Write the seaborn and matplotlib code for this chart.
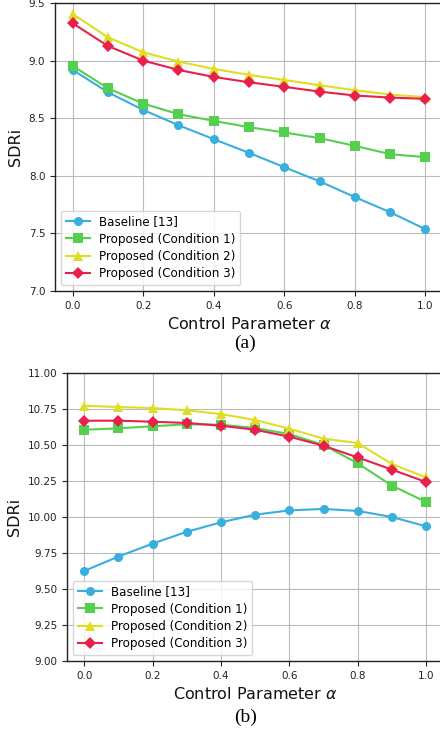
import numpy as np
import pandas as pd
import matplotlib
matplotlib.use("Agg")
import matplotlib.pyplot as plt
import seaborn as sns

alpha = [0.0, 0.1, 0.2, 0.3, 0.4, 0.5, 0.6, 0.7, 0.8, 0.9, 1.0]
series_names = ["Baseline [13]", "Proposed (Condition 1)", "Proposed (Condition 2)", "Proposed (Condition 3)"]

# Panel (a)
a_baseline = [8.92, 8.725, 8.572, 8.439, 8.318, 8.199, 8.075, 7.952, 7.815, 7.684, 7.536]
a_cond1 = [8.954, 8.760, 8.627, 8.535, 8.477, 8.422, 8.376, 8.327, 8.260, 8.188, 8.162]
a_cond2 = [9.405, 9.202, 9.072, 8.991, 8.928, 8.876, 8.832, 8.786, 8.743, 8.705, 8.682]
a_cond3 = [9.324, 9.127, 9.000, 8.919, 8.858, 8.812, 8.772, 8.731, 8.697, 8.679, 8.668]

# Panel (b)
b_baseline = [9.625, 9.725, 9.815, 9.897, 9.963, 10.016, 10.046, 10.056, 10.042, 10.000, 9.935]
b_cond1 = [10.606, 10.616, 10.630, 10.644, 10.641, 10.618, 10.576, 10.500, 10.373, 10.218, 10.104]
b_cond2 = [10.773, 10.764, 10.757, 10.741, 10.715, 10.674, 10.613, 10.544, 10.514, 10.368, 10.275]
b_cond3 = [10.669, 10.669, 10.662, 10.653, 10.634, 10.606, 10.558, 10.495, 10.414, 10.329, 10.243]

colors = ["#3aaedc", "#55d04e", "#dede22", "#e8204c"]
markers = ["o", "s", "^", "D"]

a_yticks = [7.0, 7.5, 8.0, 8.5, 9.0, 9.5]
b_yticks = [9.00, 9.25, 9.50, 9.75, 10.00, 10.25, 10.50, 10.75, 11.00]
xticks = [0.0, 0.2, 0.4, 0.6, 0.8, 1.0]

fig = plt.figure(figsize=(4.4, 7.31), dpi=100)
ax_a = fig.add_axes([0.125, 0.6019, 0.882, 0.394])
ax_b = fig.add_axes([0.1523, 0.0958, 0.855, 0.3939])


def draw(ax, data, yticks, fmt):
    for name, vals, c, m in zip(series_names, data, colors, markers):
        df = pd.DataFrame({"alpha": alpha, "SDRi": vals})
        ms = 7 if m == "^" else 6.5
        sns.lineplot(data=df, x="alpha", y="SDRi", ax=ax, color=c, marker=m,
                     markersize=ms, markeredgewidth=0, linewidth=1.5, label=name)
    ax.set_xlim(-0.05, 1.05)
    ax.set_ylim(yticks[0], yticks[-1])
    ax.set_yticks(yticks)
    ax.set_yticklabels([fmt.format(v) for v in yticks])
    ax.set_xticks(xticks)
    ax.set_xticklabels(["{:.1f}".format(v) for v in xticks])
    ax.grid(True, color="#bbbbbb", linewidth=0.8)
    ax.set_axisbelow(True)
    ax.tick_params(labelsize=7.5, colors="#222222", length=3.5)
    ax.set_xlabel(r"Control Parameter $\alpha$", fontsize=11.5, color="#111111")
    ax.set_ylabel("SDRi", fontsize=11.5, color="#111111")
    for s in ax.spines.values():
        s.set_color("#222222")
        s.set_linewidth(1.0)
    leg = ax.legend(loc="lower left", fontsize=8.6,
                    frameon=True, framealpha=0.8, borderpad=0.4, labelspacing=0.36,
                    handlelength=2.0, handletextpad=0.8)
    leg.get_frame().set_edgecolor("#cccccc")


draw(ax_a, [a_baseline, a_cond1, a_cond2, a_cond3], a_yticks, "{:.1f}")
draw(ax_b, [b_baseline, b_cond1, b_cond2, b_cond3], b_yticks, "{:.2f}")

fig.text(0.557, 1 - 343 / 731, "(a)", ha="center", va="center",
         fontsize=14, family="Liberation Serif")
fig.text(0.557, 1 - 717 / 731, "(b)", ha="center", va="center",
         fontsize=14, family="Liberation Serif")

fig.savefig("out.png", dpi=100)
